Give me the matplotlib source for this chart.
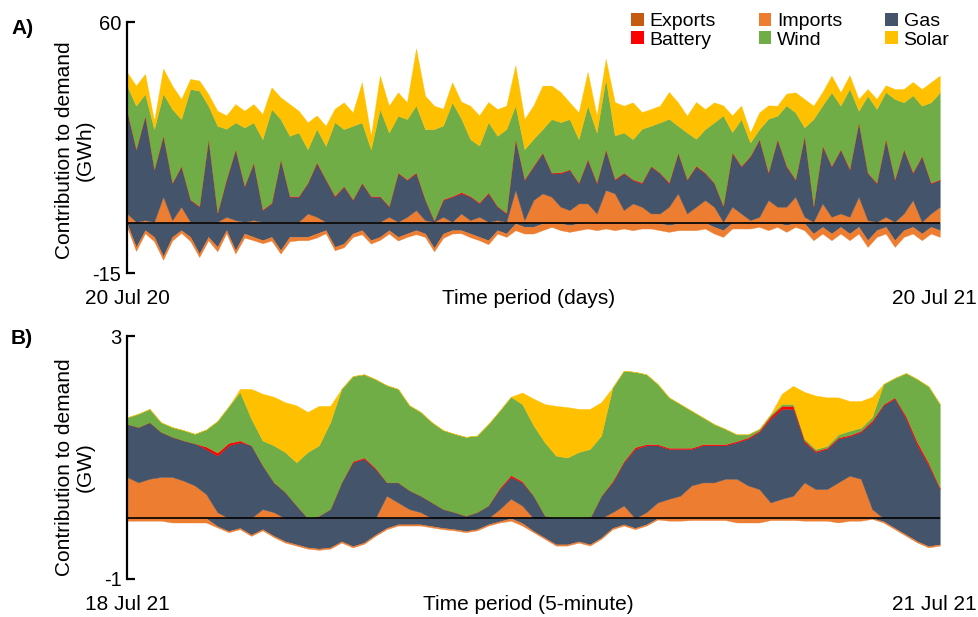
import numpy as np
import matplotlib
matplotlib.use("Agg")
import matplotlib.pyplot as plt
from matplotlib.patches import Patch

plt.rcParams['font.family'] = ['Liberation Sans', 'DejaVu Sans']
plt.rcParams['axes.unicode_minus'] = False

# ---------------- Panel A: daily (sampled every ~4 days), GWh ----------------
imports_a = [2.8, 0.3, 0.8, 0.3, 7.8, 0.8, 4.8, 0.3, 0.3, 0.3,
             0.3, 1.8, 0.8, 0.3, 0.8, 0.3, 0.3, 0.3, 0.3, 0.3,
             2.8, 1.8, 0.3, 0.3, 0.3, 0.3, 0.3, 0.3, 0.3, 1.8,
             0.3, 1.8, 3.8, 0.8, 0.3, 1.8, 0.3, 2.8, 0.8, 1.8,
             0.3, 0.8, 0.3, 9.8, 0.8, 6.8, 8.8, 7.8, 4.8, 3.8,
             5.8, 5.8, 2.8, 9.8, 8.8, 3.8, 5.8, 4.8, 2.8, 2.8,
             4.8, 8.8, 2.8, 4.8, 6.8, 4.8, 0.3, 4.8, 2.8, 0.8,
             1.8, 6.8, 4.8, 4.8, 7.8, 1.8, 0.3, 5.8, 1.8, 2.8,
             1.8, 7.8, 0.8, 0.3, 1.8, 0.3, 2.8, 6.8, 0.3, 2.8,
             4.8]
gas_a = [30.5, 21.5, 31.0, 15.5, 18.0, 11.0, 12.0, 6.5, 4.5, 24.5,
         2.5, 11.0, 21.0, 10.5, 17.0, 3.5, 5.5, 18.5, 7.5, 7.5,
         9.0, 16.0, 12.5, 7.5, 10.5, 6.5, 11.5, 7.5, 7.5, 3.0,
         14.5, 11.0, 11.0, 6.0, 0.2, 5.0, 7.5, 6.0, 7.0, 4.0,
         8.5, 4.0, 2.5, 15.0, 12.0, 10.0, 12.0, 7.0, 10.0, 12.0,
         6.0, 13.0, 9.0, 12.0, 4.0, 11.0, 7.0, 7.0, 14.0, 12.0,
         7.0, 12.0, 10.0, 12.0, 8.0, 7.0, 4.5, 16.0, 14.0, 19.0,
         23.0, 8.0, 20.0, 12.0, 5.0, 24.0, 4.5, 17.0, 15.0, 19.0,
         14.0, 22.0, 14.0, 11.5, 23.0, 12.5, 19.0, 8.0, 19.5, 9.0,
         8.0]
battery_a = [0.2, 0.2, 0.2, 0.2, 0.3, 0.2, 0.2, 0.2, 0.2, 0.2,
             0.2, 0.3, 0.2, 0.2, 0.2, 0.2, 0.2, 0.2, 0.2, 0.2,
             0.2, 0.3, 0.2, 0.3, 0.2, 0.2, 0.2, 0.2, 0.2, 0.2,
             0.2, 0.2, 0.3, 0.2, 0.2, 0.3, 0.2, 0.4, 0.2, 0.3,
             0.3, 0.2, 0.2, 0.3, 0.2, 0.3, 0.2, 0.2, 0.3, 0.2,
             0.2, 0.3, 0.2, 0.2, 0.3, 0.2, 0.2, 0.3, 0.2, 0.2,
             0.3, 0.2, 0.2, 0.3, 0.2, 0.2, 0.3, 0.3, 0.2, 0.2,
             0.2, 0.3, 0.2, 0.3, 0.2, 0.2, 0.2, 0.3, 0.2, 0.2,
             0.3, 0.2, 0.2, 0.2, 0.3, 0.2, 0.2, 0.3, 0.2, 0.2,
             0.2]
wind_a = [7.5, 13.0, 6.5, 12.0, 12.5, 22.0, 14.0, 33.0, 34.5, 10.0,
          26.0, 15.0, 8.0, 17.5, 12.0, 21.0, 28.0, 12.0, 18.0, 19.0,
          10.0, 10.0, 10.0, 22.0, 17.0, 22.0, 18.0, 14.0, 26.0, 22.0,
          17.0, 18.0, 20.0, 21.0, 27.3, 22.0, 28.0, 22.0, 17.0, 17.0,
          21.0, 21.0, 25.0, 10.0, 9.0, 8.0, 7.0, 16.0, 15.0, 15.0,
          13.0, 16.0, 15.0, 21.0, 13.0, 12.0, 12.0, 16.0, 12.0, 15.0,
          19.0, 8.0, 14.0, 8.0, 13.0, 18.0, 27.0, 6.0, 14.0, 4.0,
          3.0, 16.0, 7.0, 18.0, 20.0, 2.5, 26.0, 12.0, 22.0, 13.0,
          24.0, 3.5, 23.0, 22.0, 14.0, 24.0, 14.0, 23.0, 15.0, 24.0,
          26.0]
solar_a = [4.0, 6.0, 6.0, 2.5, 7.5, 7.0, 6.0, 3.0, 3.0, 3.5,
           4.5, 4.0, 5.5, 5.0, 5.5, 7.5, 6.5, 6.5, 9.5, 6.5,
           8.0, 4.0, 6.0, 4.0, 8.0, 4.0, 12.0, 4.0, 10.0, 8.0,
           7.0, 5.0, 17.0, 10.0, 7.0, 5.0, 6.0, 5.0, 10.0, 9.0,
           6.0, 8.0, 7.0, 12.0, 9.0, 10.0, 13.0, 10.0, 9.0, 5.0,
           8.0, 10.0, 5.0, 6.0, 10.0, 8.0, 11.0, 5.0, 5.0, 5.0,
           8.0, 7.0, 5.0, 11.0, 6.0, 6.0, 3.0, 5.0, 4.0, 3.0,
           5.0, 4.0, 3.0, 3.5, 6.0, 8.5, 4.0, 4.0, 5.0, 4.0,
           4.0, 3.5, 2.0, 3.0, 2.0, 3.0, 4.0, 4.0, 5.0, 6.0,
           5.0]
gas_neg_a = [0.2, 7.2, 2.2, 4.2, 10.0, 4.2, 2.2, 4.2, 9.2, 4.2,
             7.2, 2.2, 8.2, 3.2, 4.2, 5.2, 4.2, 8.2, 4.2, 4.2,
             4.2, 3.2, 2.2, 7.2, 6.2, 3.2, 2.2, 5.2, 4.2, 2.2,
             4.2, 3.2, 2.2, 3.2, 7.5, 3.2, 2.2, 2.2, 3.2, 4.2,
             5.2, 2.2, 3.2, 0.2, 1.2, 1.2, 0.2, 0.0, 0.2, 0.7,
             0.2, 0.0, 0.2, 0.0, 0.2, 0.0, 0.2, 0.0, 0.0, 0.2,
             0.7, 0.2, 0.2, 0.2, 0.0, 1.2, 2.2, 0.0, 0.0, 0.0,
             0.0, 0.2, 0.0, 0.7, 0.0, 0.2, 3.2, 1.2, 3.2, 1.2,
             3.2, 1.2, 5.2, 2.2, 1.2, 5.2, 2.2, 1.2, 3.2, 1.2,
             2.2]
imports_neg_a = [1.0, 1.2, 0.9, 1.3, 1.0, 1.1, 0.8, 1.2, 1.0, 1.0,
                 1.3, 0.9, 1.0, 1.2, 1.0, 0.9, 1.1, 1.0, 1.3, 1.0,
                 1.0, 1.2, 0.9, 1.0, 1.1, 1.0, 1.2, 1.0, 0.9, 1.0,
                 1.1, 1.0, 1.2, 1.0, 1.0, 1.3, 1.0, 0.9, 1.1, 1.0,
                 1.2, 1.0, 1.0, 2.0, 2.0, 2.0, 2.0, 1.2, 2.0, 2.0,
                 2.0, 1.7, 2.0, 1.7, 2.0, 1.7, 2.0, 1.7, 1.7, 2.0,
                 2.0, 2.0, 2.0, 2.0, 1.7, 2.0, 2.0, 1.7, 1.7, 1.7,
                 1.2, 2.0, 1.2, 2.0, 1.2, 2.0, 2.0, 2.0, 2.0, 2.0,
                 2.0, 2.0, 2.0, 2.0, 2.0, 2.0, 2.0, 2.0, 2.0, 2.0,
                 2.0]

# ---------------- Panel B: 18-21 Jul 2021 (sampled hourly), GW ----------------
imports_b = [.68, .59, .65, .68, .68, .62, .54, .40, .10, 0,
             0, 0, .15, .10, 0, 0, 0, 0, 0, 0,
             0, 0, 0, .37, .26, .15, .10, 0, 0, 0,
             0, 0, 0, .15, .32, .21, 0, 0, 0, 0,
             0, 0, 0, .10, .21, 0, .10, .26, .32, .37,
             .54, .59, .59, .65, .65, .54, .48, .26, .32, .37,
             .59, .48, .48, .59, .70, .65, .15, 0, 0, 0,
             0, 0, 0]
gas_b = [.87, .91, .93, .74, .66, .66, .69, .74, .93, 1.2,
         1.25, 1.2, .72, .49, .43, .21, 0, .04, .15, .59,
         .92, .98, .81, .22, .33, .31, .27, .26, .15, .10,
         .04, .10, .21, .33, .36, .38, .37, .04, 0, 0,
         0, 0, .37, .49, .71, 1.14, 1.1, .94, .82, .77,
         .60, .61, .61, .55, .60, .77, .94, 1.38, 1.48, 1.43,
         .66, .61, .66, .72, .65, .77, 1.43, 1.86, 1.97, 1.64,
         1.2, .87, .48]
battery_b = [0, 0, 0, 0, 0, 0, 0, .04, .05, .04,
             .03, 0, 0, 0, 0, 0, 0, 0, 0, 0,
             .02, .02, .02, 0, 0, 0, 0, 0, 0, 0,
             0, 0, 0, .02, .03, .02, 0, 0, 0, 0,
             0, 0, 0, .02, .02, .03, .02, .02, .02, .02,
             .02, .02, .02, .02, .02, .02, .02, .04, .05, .05,
             .03, .02, .02, .02, .02, .02, .03, .02, .02, .04,
             .05, .04, .02]
wind_b = [.11, .22, .22, .16, .16, .17, .16, .28, .52, .60,
          .80, .44, .41, .61, .66, .71, 1.09, 1.16, 1.43, 1.54,
          1.40, 1.37, 1.46, 1.60, 1.54, 1.40, 1.38, 1.32, 1.30, 1.29,
          1.30, 1.26, 1.34, 1.27, 1.29, 1.27, 1.16, 1.21, 1.03, 1.00,
          1.09, 1.14, .99, 1.54, 1.49, 1.24, 1.15, .99, .83, .72,
          .61, .44, .33, .25, .11, .05, .03, .03, .03, .03,
          .03, .03, .03, .05, .07, .05, .06, .33, .32, .71,
          1.04, 1.26, 1.38]
solar_b = [0, 0, 0, 0, 0, 0, 0, 0, 0, 0,
           .05, .49, .77, .80, .82, .94, .66, .65, .27, 0,
           0, 0, 0, 0, 0, 0, 0, 0, 0, 0,
           0, 0, 0, 0, 0, .19, .44, .63, .82, .83,
           .71, .66, .55, 0, 0, 0, 0, 0, 0, 0,
           0, 0, 0, 0, 0, 0, 0, 0, .17, .30,
           .77, .88, .80, .61, .49, .44, .33, 0, 0, 0,
           0, 0, 0]
gas_neg_b = [0, 0, 0, 0, 0, 0, 0, 0, .13, .21,
             .16, .27, .18, .29, .38, .43, .48, .50, .48, .38,
             .46, .40, .27, .16, .10, .10, .10, .13, .16, .18,
             .21, .18, .10, .05, 0, .08, .21, .32, .43, .43,
             .38, .43, .32, .16, .10, .16, .10, 0, 0, 0,
             0, 0, 0, 0, 0, 0, 0, 0, 0, 0,
             0, 0, 0, 0, 0, 0, 0, .05, .16, .27,
             .38, .46, .43]
imports_neg_b = [.04, .04, .04, .04, .07, .07, .07, .07, .02, .02,
                 .02, .02, .02, .02, .02, .02, .02, .02, .02, .02,
                 .02, .02, .02, .02, .02, .02, .02, .02, .02, .02,
                 .02, .02, .02, .02, .04, .04, .02, .02, .02, .02,
                 .02, .02, .02, .02, .02, .02, .02, .02, .04, .04,
                 .03, .03, .03, .03, .07, .07, .07, .03, .03, .03,
                 .04, .04, .04, .07, .04, .04, .01, .02, .02, .02,
                 .02, .02, .02]

colors = {'Exports': '#C55A11', 'Imports': '#ED7D31', 'Gas': '#44546A',
          'Battery': '#FF0000', 'Wind': '#70AD47', 'Solar': '#FFC000'}

fig = plt.figure(figsize=(9.79, 6.17), dpi=100)
axA = fig.add_axes([0.1297, 0.5575, 0.8303, 0.4068])
axB = fig.add_axes([0.1297, 0.0616, 0.8303, 0.3938])


def draw(ax, pos, neg, ylim):
    n = len(pos[0][1])
    x = np.arange(n)
    base = np.zeros(n)
    for name, vals in pos:
        top = base + np.asarray(vals, float)
        ax.fill_between(x, base, top, facecolor=colors[name], edgecolor=colors[name],
                        linewidth=0.25)
        base = top
    base = np.zeros(n)
    for name, vals in neg:
        bot = base - np.asarray(vals, float)
        ax.fill_between(x, bot, base, facecolor=colors[name], edgecolor=colors[name],
                        linewidth=0.25)
        base = bot
    ax.axhline(0, color='black', lw=1.4, alpha=0.85, zorder=5)
    ax.set_xlim(0, n - 1)
    ax.set_ylim(*ylim)
    ax.set_yticks(list(ylim))
    ax.set_xticks([])
    for s in ['top', 'right', 'bottom']:
        ax.spines[s].set_visible(False)
    ax.spines['left'].set_linewidth(1.6)
    ax.tick_params(axis='y', direction='in', length=6, width=1.6, labelsize=14.5, pad=4)


draw(axA,
     [('Imports', imports_a), ('Gas', gas_a), ('Battery', battery_a),
      ('Wind', wind_a), ('Solar', solar_a)],
     [('Gas', gas_neg_a), ('Imports', imports_neg_a)],
     (-15, 60))
draw(axB,
     [('Imports', imports_b), ('Gas', gas_b), ('Battery', battery_b),
      ('Wind', wind_b), ('Solar', solar_b)],
     [('Gas', gas_neg_b), ('Imports', imports_neg_b)],
     (-1, 3))

fs = 15
for ax, left, mid, right in [(axA, '20 Jul 20', 'Time period (days)', '20 Jul 21'),
                             (axB, '18 Jul 21', 'Time period (5-minute)', '21 Jul 21')]:
    yb = -0.1 if ax is axA else -0.103
    ax.text(0.0, yb, left, transform=ax.transAxes, ha='center', va='center', fontsize=fs)
    ax.text(0.494, yb, mid, transform=ax.transAxes, ha='center', va='center', fontsize=fs)
    ax.text(1.045, yb, right, transform=ax.transAxes, ha='right', va='center', fontsize=fs)

fig.text(75 / 979, 1 - 150 / 617, 'Contribution to demand\n(GWh)', rotation=90,
         ha='center', va='center', fontsize=fs, multialignment='center', linespacing=1.1)
fig.text(75 / 979, 1 - 467 / 617, 'Contribution to demand\n(GW)', rotation=90,
         ha='center', va='center', fontsize=fs, multialignment='center', linespacing=1.1)
fig.text(11 / 979, 1 - 28 / 617, 'A)', fontsize=15, fontweight='bold', va='center')
fig.text(11 / 979, 1 - 338 / 617, 'B)', fontsize=15, fontweight='bold', va='center')

order = ['Exports', 'Battery', 'Imports', 'Wind', 'Gas', 'Solar']
handles = [Patch(facecolor=colors[k], edgecolor='none') for k in order]
fig.legend(handles, order, ncol=3, loc='upper left', bbox_to_anchor=(631 / 979, 1 - 13 / 617),
           frameon=False, fontsize=14, handlelength=0.65, handleheight=0.65,
           handletextpad=0.3, columnspacing=2.2, labelspacing=0.05, borderpad=0,
           borderaxespad=0)

fig.savefig('out.png', dpi=100)
